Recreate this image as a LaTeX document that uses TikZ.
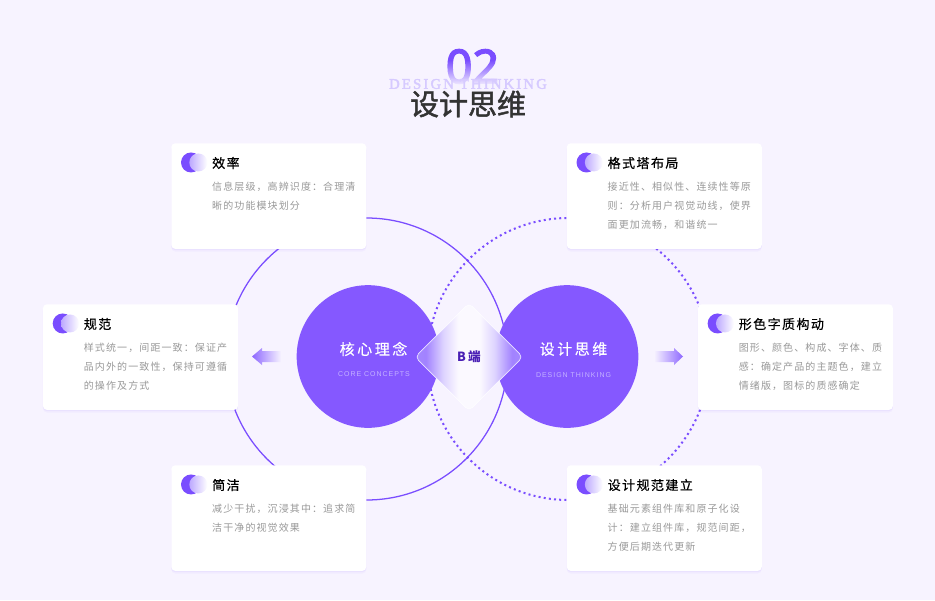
\documentclass[tikz,border=0pt]{standalone}
\usepackage{fontspec}
\usepackage{xcolor}
\usetikzlibrary{positioning, shapes.geometric, shadows, fadings}
\setmainfont{Noto Sans CJK SC}
\newfontfamily\cardfont[LetterSpace=11]{Noto Sans CJK SC}
\newfontfamily\headfont[LetterSpace=11,FakeBold=0.5]{Noto Sans CJK SC}
\newfontfamily\corefont[LetterSpace=17,FakeBold=0.3]{Noto Sans CJK SC}
\newfontfamily\bigfont[FakeBold=1.5]{Noto Sans CJK SC}
\newfontfamily\numfont[FakeBold=3]{Noto Sans}
\newfontfamily\capsfont[LetterSpace=14]{Liberation Sans}
\newfontfamily\ghostfont[LetterSpace=15,FakeBold=2.5]{Liberation Serif}
\definecolor{pageback}{HTML}{F7F3FF}
\definecolor{dpurple}{HTML}{7A4DFF}
\definecolor{dfill}{HTML}{8558FF}
\definecolor{dink}{HTML}{333333}
\definecolor{dgray}{HTML}{999999}
\definecolor{dghost}{HTML}{D6CAFF}
\definecolor{dsub}{HTML}{B9A4FF}
\definecolor{dsubtext}{HTML}{C4B2FF}
\definecolor{dtext}{HTML}{4A20B5}
\definecolor{glassa}{HTML}{B8A4FF}
\definecolor{glassb}{HTML}{A68CFF}
\definecolor{glassc}{HTML}{A282FF}
\definecolor{glassd}{HTML}{DDD3FF}
\definecolor{glasse}{HTML}{FBF9FF}
\pgfdeclarehorizontalshading{glass}{100bp}{
  color(0bp)=(glassa); color(22bp)=(glassb); color(30bp)=(glassc);
  color(38bp)=(glassd); color(45bp)=(glasse); color(55bp)=(glasse);
  color(62bp)=(glassd); color(70bp)=(glassc); color(78bp)=(glassb);
  color(100bp)=(glassa)}
\newcommand{\infocard}[5]{
  \node[card] (#1) at (#2,#3) {};
  \node[carddot, xshift=15pt, yshift=-14.6pt] (#1dot) at (#1.north west) {};
  \node[cardglow, xshift=20.5pt, yshift=-14.6pt] (#1glow) at (#1.north west) {};
  \node[cardtitle, xshift=30.7pt, yshift=-15pt] (#1title) at (#1.north west) {#4};
  \node[cardbody, xshift=30.7pt, yshift=-29pt] (#1body) at (#1.north west) {#5};
}
\begin{document}
\begin{tikzpicture}[
  x=0.75pt, y=-0.75pt,
  ring/.style={circle, minimum size=211.5pt, inner sep=0pt, line width=0.95pt, dpurple},
  core/.style={circle, fill=dfill, minimum size=107pt, inner sep=0pt},
  card/.style={rectangle, anchor=north west, fill=white, rounded corners=3pt,
    minimum width=146.25pt, minimum height=79.2pt,
    drop shadow={shadow xshift=0pt, shadow yshift=-1pt, opacity=.06, fill=dpurple},
    drop shadow={shadow xshift=0pt, shadow yshift=-2pt, opacity=.04, fill=dpurple}},
  carddot/.style={circle, fill=dpurple, minimum size=15pt, inner sep=0pt},
  cardglow/.style={circle, left color=dsub!95, right color=white, minimum size=13.5pt, inner sep=0pt},
  cardtitle/.style={anchor=west, inner sep=0pt, font=\fontsize{9.75}{12}\headfont, text=black},
  cardbody/.style={anchor=north west, inner sep=0pt, align=left, font=\fontsize{7.5}{14.25}\cardfont, text=dgray},
  coretitle/.style={inner sep=0pt, font=\fontsize{11.25}{14}\corefont, text=white},
  coresub/.style={inner sep=0pt, font=\fontsize{5.25}{7}\capsfont, text=dsubtext},
]
  \fill[pageback] (0,0) rectangle (935,600);
  \useasboundingbox (0,0) rectangle (935,600);

  % heading
  \node[inner sep=0pt, font=\fontsize{35}{40}\numfont, text=dpurple] (number) at (472.5,66.5) {02};
  \fill[pageback, path fading=north] (440,60) rectangle (505,86);
  \fill[pageback] (440,86) rectangle (505,95);
  \node[inner sep=0pt, font=\fontsize{11}{14}\ghostfont, text=dghost] (ghost) at (468,84) {DESIGN THINKING};
  \node[inner sep=0pt, font=\fontsize{21.75}{26}\bigfont, text=dink] (title) at (468,104) {设计思维};

  % rings
  \node[ring, draw] (leftring) at (366.5,359) {};
  \node[ring, draw, dash pattern=on 1.5pt off 2.4pt, line width=1.5pt] (rightring) at (568.5,359) {};

  % cards
  \infocard{effect}{171}{143}{效率}{信息层级，高辨识度：合理清\\晰的功能模块划分}
  \infocard{rules}{42.7}{304}{规范}{样式统一，间距一致：保证产\\品内外的一致性，保持可遵循\\的操作及方式}
  \infocard{simple}{171}{465}{简洁}{减少干扰，沉浸其中：追求简\\洁干净的视觉效果}
  \infocard{gestalt}{566.5}{143}{格式塔布局}{接近性、相似性、连续性等原\\则：分析用户视觉动线，使界\\面更加流畅，和谐统一}
  \infocard{form}{697.6}{304}{形色字质构动}{图形、颜色、构成、字体、质\\感：确定产品的主题色，建立\\情绪版，图标的质感确定}
  \infocard{spec}{566.5}{465}{设计规范建立}{基础元素组件库和原子化设\\计：建立组件库，规范间距，\\方便后期迭代更新}

  % centre
  \node[core] (coreleft) at (368,356.5) {};
  \node[core] (coreright) at (567,356.5) {};
  \node[coretitle] (coreleftname) at (373.5,349) {核心理念};
  \node[coresub] (coreleftsub) at (374,374) {CORE CONCEPTS};
  \node[coretitle] (corerightname) at (573.5,349) {设计思维};
  \node[coresub] (corerightsub) at (573.5,375) {DESIGN THINKING};
  \node[diamond, aspect=1, minimum size=81pt, inner sep=0pt, rounded corners=3.5pt,
    shading=glass, draw=white, draw opacity=.8, line width=.5pt,
    font=\fontsize{9.5}{12}\selectfont\bfseries, text=dtext] (bside) at (469,357) {\raisebox{-1.5pt}{B\,端}};

  % arrows
  \shade[left color=dpurple!85, right color=pageback]
    (252,356.5) -- (262,348) -- (262,351) -- (281,351) -- (281,362) -- (262,362) -- (262,365) -- cycle;
  \shade[left color=pageback, right color=dpurple!85]
    (683,356.5) -- (674,348) -- (674,351) -- (654,351) -- (654,362) -- (674,362) -- (674,365) -- cycle;
\end{tikzpicture}
\end{document}
